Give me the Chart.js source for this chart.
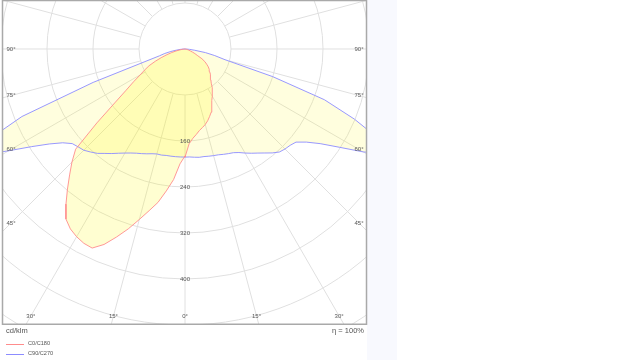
<!DOCTYPE html>
<html><head><meta charset="utf-8">
<script src="https://cdn.jsdelivr.net/npm/chart.js@4/dist/chart.umd.min.js"></script>
<style>
html,body{margin:0;padding:0;background:#fff;width:640px;height:360px;overflow:hidden;font-family:"Liberation Sans",Arial,sans-serif;}
#strip{position:absolute;left:367px;top:0;width:30px;height:360px;background:#f8f9fe;}
#wrap{position:absolute;left:0;top:0;width:640px;height:360px;}
.t{position:absolute;color:#555;white-space:nowrap;line-height:1;}
.lg{position:absolute;left:6px;height:10px;width:80px;}
.lg i{position:absolute;left:0;top:5px;width:18px;height:0;border-top:1px solid #ccc;}
.lg span{position:absolute;left:22px;top:2px;font-size:5.6px;color:#555;white-space:nowrap;line-height:1;}
</style></head><body>
<div id="strip"></div>
<div id="wrap"><canvas id="c" width="640" height="360"></canvas></div>
<div class="t" style="left:6px;top:327px;font-size:7.5px;">cd/klm</div>
<div class="t" style="right:276px;top:327px;font-size:7.5px;">η = 100%</div>
<div id="legend"></div>
<script>
// gamma angles (degrees from nadir)
const gammaDeg = [0,2.5,5,7.5,10,12.5,15,17.5,20,22.5,25,27.5,30,32.5,35,37.5,40,42.5,45,47.5,50,52.5,55,57.5,60,62.5,65,67.5,70,72.5,75,77.5,80,82.5,85,87.5,90];
// intensities cd/klm
const c0   = [188,165,156,150,144,140,136,131,125,119,110,101,95,89,82,75,70,66,62,58,55,51,46,41,34,24,19,14,10,7,5,3,2,1,0,0,0];
const c180 = [186,200,228,249,271,288,307,328,348,368,382,381,377,371,361,340,318,297,278,258,200,154,125,106,90,79,69,56,44,33,24,16,9,5,2,1,0];
const c90  = [188,188,189,190,190,191,192,193,195,197,199,203,209,215,221,228,236,243,246,248,252,266,287,318,358,395,375,319,258,160,72,53,36,17,8,3,0];
const c270 = [188,188,188,188,188,189,189,191,194,197,200,204,209,215,222,229,237,243,249,252,256,268,288,316,354,400,385,307,170,73,46,36,25,15,8,3,0];
const seriesLabels = ['C0/C180','C90/C270'];
const ringValues = [80,160,240,320,400,480,560,640];
const ringLabelValues = [160,240,320,400];
const angleTicks = [0,15,30,45,60,75,90];
const radialAngles = [0,15,30,45,60,75,90,105,120,135,150,165,180];

const rad = d => d * Math.PI / 180;
function curve(leftVals, rightVals) {
  const pts = [];
  for (let i = gammaDeg.length - 1; i >= 0; i--) {
    const g = rad(gammaDeg[i]), r = leftVals[i];
    pts.push({x: -r * Math.sin(g), y: -r * Math.cos(g)});
  }
  for (let i = 0; i < gammaDeg.length; i++) {
    const g = rad(gammaDeg[i]), r = rightVals[i];
    pts.push({x: r * Math.sin(g), y: -r * Math.cos(g)});
  }
  return pts;
}

const polarGrid = {
  id: 'polarGrid',
  beforeDraw(chart) {
    const {ctx, chartArea: ca, scales: {x, y}} = chart;
    const cx = x.getPixelForValue(0), cy = y.getPixelForValue(0);
    const k = (x.getPixelForValue(100) - cx) / 100;
    ctx.save();
    ctx.beginPath(); ctx.rect(ca.left, ca.top, ca.width, ca.height); ctx.clip();
    ctx.strokeStyle = '#e0e0e0'; ctx.lineWidth = 1;
    ringValues.forEach(v => { ctx.beginPath(); ctx.arc(cx, cy, v * k, 0, Math.PI * 2); ctx.stroke(); });
    const r0 = ringValues[0] * k, r1 = 2000;
    radialAngles.forEach(a => {
      [-1, 1].forEach(s => {
        if ((a === 0 || a === 180) && s === 1) return;
        const dx = s * Math.sin(rad(a)), dy = Math.cos(rad(a));
        ctx.beginPath(); ctx.moveTo(cx + dx * r0, cy + dy * r0); ctx.lineTo(cx + dx * r1, cy + dy * r1); ctx.stroke();
      });
    });
    ctx.restore();
  },
  afterDraw(chart) {
    const {ctx, chartArea: ca, scales: {x, y}} = chart;
    const cx = x.getPixelForValue(0), cy = y.getPixelForValue(0);
    const k = (x.getPixelForValue(100) - cx) / 100;
    ctx.save();
    ctx.fillStyle = '#555'; ctx.font = '6px "Liberation Sans", Arial, sans-serif';
    ctx.textAlign = 'center'; ctx.textBaseline = 'middle';
    ringLabelValues.forEach(v => ctx.fillText(String(v), cx, cy + v * k));
    const L = ca.left + 8, R = ca.right - 8, B = ca.bottom - 8;
    angleTicks.forEach(a => {
      [-1, 1].forEach(s => {
        if (a === 0 && s === 1) return;
        const dx = s * Math.sin(rad(a)), dy = Math.cos(rad(a));
        let t = Infinity;
        if (dx < -1e-9) t = Math.min(t, (L - cx) / dx);
        if (dx > 1e-9) t = Math.min(t, (R - cx) / dx);
        if (dy > 1e-9) t = Math.min(t, (B - cy) / dy);
        ctx.fillText(a + '°', cx + dx * t, cy + dy * t);
      });
    });
    ctx.strokeStyle = '#a9a9a9'; ctx.lineWidth = 1.5;
    ctx.strokeRect(ca.left - 0.5, ca.top + 0.5, ca.width, ca.height - 0.25);
    ctx.restore();
  }
};

const redLine = 'rgb(255,140,140)', blueLine = 'rgb(140,140,255)';
const chart = new Chart(document.getElementById('c'), {
  type: 'scatter',
  data: {
    datasets: [
      {label: seriesLabels[0], data: curve(c180, c0), showLine: true, fill: 'shape', tension: 0,
       borderColor: redLine, backgroundColor: 'rgba(255,250,0,0.18)', borderWidth: 0.9, pointRadius: 0},
      {label: seriesLabels[1], data: curve(c270, c90), showLine: true, fill: 'shape', tension: 0,
       borderColor: blueLine, backgroundColor: 'rgba(255,250,0,0.13)', borderWidth: 0.9, pointRadius: 0}
    ]
  },
  options: {
    responsive: false, animation: false, devicePixelRatio: 1,
    layout: {padding: {left: 3, right: 273, top: 0, bottom: 36}},
    scales: {
      x: {type: 'linear', display: false, min: -316.5, max: 316.5},
      y: {type: 'linear', display: false, min: -478.3, max: 85.2}
    },
    plugins: {legend: {display: false}, tooltip: {enabled: false}, filler: {drawTime: 'beforeDatasetsDraw'}}
  },
  plugins: [polarGrid]
});

const lg = document.getElementById('legend');
chart.data.datasets.forEach((ds, i) => {
  const d = document.createElement('div');
  d.className = 'lg'; d.style.top = (339 + i * 10) + 'px';
  const line = document.createElement('i');
  line.style.borderTopColor = ds.borderColor;
  const sp = document.createElement('span');
  sp.textContent = ds.label;
  d.appendChild(line); d.appendChild(sp);
  lg.appendChild(d);
});
</script>
</body></html>
